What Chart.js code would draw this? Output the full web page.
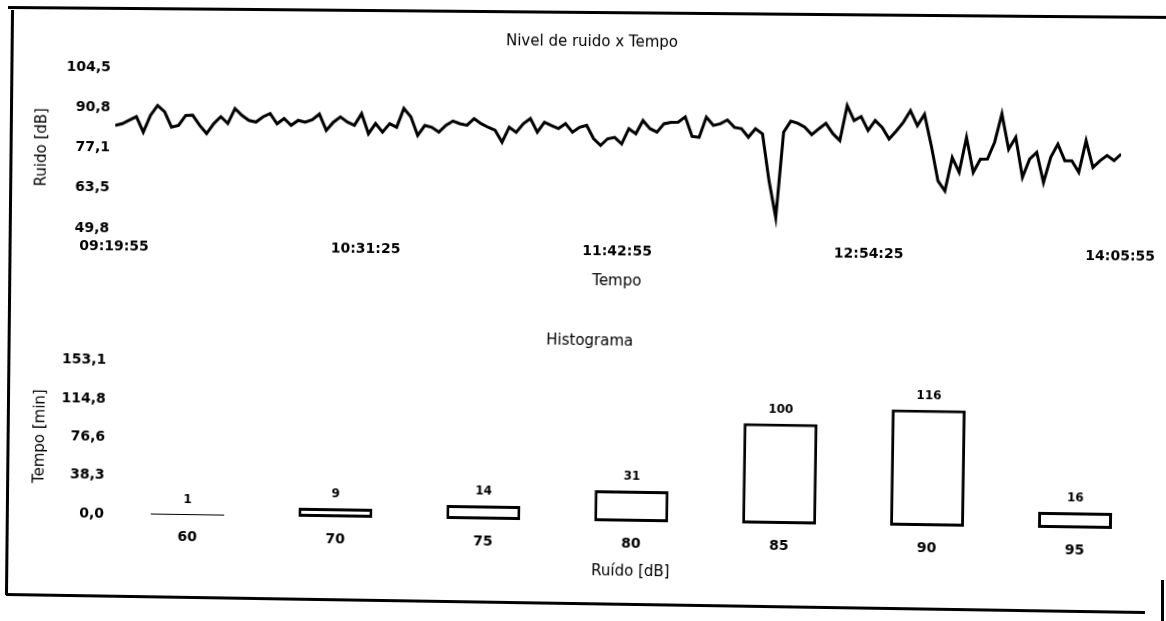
<!DOCTYPE html>
<html>
<head>
<meta charset="utf-8">
<title>Nivel de ruido x Tempo</title>
<script src="https://cdn.jsdelivr.net/npm/chart.js@4.4.1/dist/chart.umd.min.js"></script>
<style>
  html, body { margin: 0; padding: 0; background: #fff; width: 1166px; height: 621px; overflow: hidden; }
  canvas { position: absolute; left: 0; }
  #noiseChart { top: 0; transform: rotate(0.57deg); }
  #histChart { top: 300px; transform: rotate(0.86deg); }
  .edge { position: absolute; background: #000; }
</style>
</head>
<body>
<!-- scanned page frame, slightly skewed like the original -->
<div class="edge" style="left:8px; top:11px; width:1170px; height:3px; transform:rotate(0.5deg)"></div>
<div class="edge" style="left:7.5px; top:9.5px; width:3px; height:585px; transform:rotate(0.59deg)"></div>
<div class="edge" style="left:6px; top:601.5px; width:1139px; height:3px; transform:rotate(0.9deg)"></div>
<div class="edge" style="left:1161px; top:580px; width:3px; height:41px"></div>

<canvas id="noiseChart" width="1166" height="300"></canvas>
<canvas id="histChart" width="1166" height="300"></canvas>

<script>
// noise level, one reading every 2 min from 09:19:55 to 14:05:55
const SAMPLE_STEP_MIN = 2;
const noiseLevels = [
  84.8, 85.4, 86.6, 87.8, 82.6, 88.3, 91.7, 89.6, 84.4, 85.0, 88.4, 88.5,
  85.1, 82.3, 85.7, 88.1, 85.8, 90.9, 88.6, 86.9, 86.4, 88.2, 89.3, 85.9,
  87.7, 85.4, 87.1, 86.5, 87.4, 89.3, 83.8, 86.6, 88.4, 86.7, 85.6, 89.6,
  82.8, 86.3, 83.4, 86.3, 85.1, 91.5, 88.7, 82.4, 85.8, 85.2, 83.6, 85.9,
  87.4, 86.5, 86.0, 88.3, 86.6, 85.4, 84.4, 80.4, 85.5, 83.8, 86.7, 88.5,
  83.9, 87.3, 86.2, 85.2, 86.9, 84.0, 85.7, 86.4, 81.9, 79.6, 81.9, 82.4,
  80.2, 85.4, 83.7, 88.2, 85.5, 84.3, 87.2, 87.7, 87.8, 89.6, 83.0, 82.7,
  89.6, 86.8, 87.4, 88.7, 86.2, 85.8, 82.9, 85.8, 84.1, 68.1, 55.7, 84.7,
  88.5, 87.8, 86.5, 84.0, 86.0, 87.9, 84.4, 82.1, 94.0, 88.9, 90.3, 85.6,
  89.0, 86.7, 82.8, 85.5, 88.5, 92.5, 87.4, 91.3, 80.7, 68.7, 65.3, 76.7,
  71.7, 83.6, 71.7, 76.2, 76.3, 82.0, 91.7, 79.7, 83.8, 70.2, 76.4, 78.7,
  68.5, 77.1, 81.6, 76.0, 76.0, 72.1, 82.9, 73.8, 76.1, 77.9, 76.2, 78.4
];
const timeTickMinutes = [0, 71.5, 143, 214.5, 286];
const timeTickLabels = ['09:19:55', '10:31:25', '11:42:55', '12:54:25', '14:05:55'];
const noiseTicks = [49.8, 63.5, 77.1, 90.8, 104.5];

// histogram: minutes spent in each noise band
const histBins = ['60', '70', '75', '80', '85', '90', '95'];
const histMinutes = [1, 9, 14, 31, 100, 116, 16];
const histTicks = [0, 38.3, 76.6, 114.8, 153.1];

const FONT = '"DejaVu Sans", "Liberation Sans", sans-serif';
Chart.defaults.font.family = FONT;
Chart.defaults.color = '#000';

const comma = v => Number(v).toFixed(1).replace('.', ',');
const tickFont = { family: FONT, size: 14, weight: 'bold' };
const titleFont = { family: FONT, size: 15 };

// chart title drawn at a fixed spot, the scan has it off-centre
const pageTitle = {
  id: 'pageTitle',
  afterDraw(chart, args, opts) {
    const ctx = chart.ctx;
    ctx.save();
    ctx.font = `15px ${FONT}`;
    ctx.fillStyle = '#000';
    ctx.textAlign = 'center';
    ctx.textBaseline = 'middle';
    ctx.fillText(opts.text, opts.x, opts.y);
    ctx.restore();
  }
};

// value printed above each histogram bar
const barValues = {
  id: 'barValues',
  afterDatasetsDraw(chart) {
    const ctx = chart.ctx;
    const ds = chart.data.datasets[0];
    ctx.save();
    ctx.font = `bold 12px ${FONT}`;
    ctx.fillStyle = '#000';
    ctx.textAlign = 'center';
    ctx.textBaseline = 'middle';
    chart.getDatasetMeta(0).data.forEach((bar, i) => {
      ctx.fillText(String(ds.data[i]), bar.x, bar.y - 14);
    });
    ctx.restore();
  }
};

function plainAxis(extra) {
  return Object.assign({
    grid: { display: false, drawTicks: false },
    border: { display: false },
  }, extra);
}

new Chart(document.getElementById('noiseChart'), {
  type: 'line',
  data: {
    datasets: [{
      data: noiseLevels.map((v, i) => ({ x: i * SAMPLE_STEP_MIN, y: v })),
      borderColor: '#000',
      borderWidth: 3,
      pointRadius: 0,
      tension: 0,
      fill: false,
    }]
  },
  options: {
    responsive: false,
    animation: false,
    layout: { padding: { left: 0, right: 43, top: 72, bottom: 10 } },
    plugins: {
      legend: { display: false },
      tooltip: { enabled: false },
      pageTitle: { text: 'Nivel de ruido x Tempo', x: 591, y: 42 },
    },
    scales: {
      x: plainAxis({
        type: 'linear',
        min: 0,
        max: 286,
        afterBuildTicks: s => { s.ticks = timeTickMinutes.map(v => ({ value: v })); },
        afterFit: s => { s.height = 57; },
        ticks: { autoSkip: false, maxRotation: 0, padding: 10, font: tickFont, callback: (v, i) => timeTickLabels[i] },
        title: { display: true, text: 'Tempo', font: titleFont, padding: { top: 0, bottom: 0 } },
      }),
      y: plainAxis({
        min: 49.8,
        max: 104.5,
        afterBuildTicks: s => { s.ticks = noiseTicks.map(v => ({ value: v })); },
        afterFit: s => { s.width = 115; },
        ticks: { padding: 5, font: tickFont, callback: comma },
        title: { display: true, text: 'Ruido [dB]', font: titleFont, padding: { top: 33, bottom: 0 } },
      }),
    }
  },
  plugins: [pageTitle]
});

new Chart(document.getElementById('histChart'), {
  type: 'bar',
  data: {
    labels: histBins,
    datasets: [{
      data: histMinutes,
      backgroundColor: '#fff',
      borderColor: '#000',
      borderWidth: 3,
      borderSkipped: false,
      barPercentage: 0.5,
      categoryPercentage: 1.0,
    }]
  },
  options: {
    responsive: false,
    animation: false,
    layout: { padding: { left: 0, right: 16, top: 67.5, bottom: 20.2 } },
    plugins: {
      legend: { display: false },
      tooltip: { enabled: false },
      pageTitle: { text: 'Histograma', x: 588, y: 41 },
    },
    scales: {
      x: plainAxis({
        afterFit: s => { s.height = 58.8; },
        ticks: { padding: 13.6, font: tickFont },
        title: { display: true, text: 'Ruído [dB]', font: titleFont, padding: { top: 0, bottom: 0 } },
      }),
      y: plainAxis({
        min: 0,
        max: 153.1,
        afterBuildTicks: s => { s.ticks = histTicks.map(v => ({ value: v })); },
        afterFit: s => { s.width = 114.5; },
        ticks: { padding: 9.5, font: tickFont, callback: comma },
        title: { display: true, text: 'Tempo [min]', font: titleFont, padding: { top: 30.8, bottom: 0 } },
      }),
    }
  },
  plugins: [pageTitle, barValues]
});
</script>
</body>
</html>
